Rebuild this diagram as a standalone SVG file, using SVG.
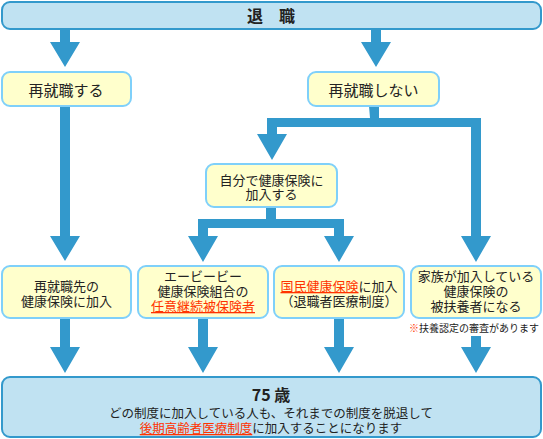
<svg xmlns="http://www.w3.org/2000/svg" width="543" height="439" viewBox="0 0 543 439">
<style>
.big{fill:#C0E2F2;stroke:#3399CC;stroke-width:2}
.box{fill:#FFFFCC;stroke:#7FD0FA;stroke-width:2}
.arr{fill:#3399CC}
text{font-family:"Noto Sans CJK JP","Noto Sans CJK SC",sans-serif;fill:#222;text-anchor:middle}
.t13{font-size:13px}
.red{fill:#FF3300;text-decoration:underline}
</style>
<rect width="543" height="439" fill="#fff"/>
<g id="connectors">
<path class="arr" d="M60,29h10v13h10l-15,25l-15,-25h10z"/>
<path class="arr" d="M371,29h10v13h10l-15,25l-15,-25h10z"/>
<path class="arr" d="M60,106h10v130h10l-15,25l-15,-25h10z"/>
<path class="arr" d="M369,106h10v12h102v118h10l-15,26l-15,-26h10v-109h-194v7h10l-15,26l-15,-26h10v-16h103z"/>
<path class="arr" d="M266,207h10v12h68v17h10l-15,26l-15,-26h10v-8h-126v8h10l-15,26l-15,-26h10v-17h68z"/>
<path class="arr" d="M60,318h10v29h10l-15,26l-15,-26h10z"/>
<path class="arr" d="M198,318h10v29h10l-15,26l-15,-26h10z"/>
<path class="arr" d="M334,318h10v29h10l-15,26l-15,-26h10z"/>
<path class="arr" d="M471,336h10v11h10l-15,26l-15,-26h10z"/>
</g>
<g id="taishoku">
<rect class="big" x="2" y="2" width="539" height="27" rx="8"/>
<text x="271" y="21.5" style="font-size:16px;font-weight:bold">退　職</text>
</g>
<g id="saishushoku">
<rect class="box" x="2" y="72" width="129" height="34" rx="8"/>
<text x="66" y="95.5" style="font-size:15px">再就職する</text>
</g>
<g id="saishushoku-shinai">
<rect class="box" x="308" y="72" width="131" height="34" rx="8"/>
<text x="373.5" y="95.5" style="font-size:15px">再就職しない</text>
</g>
<g id="jibun">
<rect class="box" x="206" y="164" width="131" height="43" rx="8"/>
<text class="t13" x="271.5" y="184.5">自分で健康保険に</text>
<text class="t13" x="271.5" y="199">加入する</text>
</g>
<g id="saishushokusaki">
<rect class="box" x="2" y="266" width="129" height="52" rx="8"/>
<text class="t13" x="66.5" y="291">再就職先の</text>
<text class="t13" x="66.5" y="306">健康保険に加入</text>
</g>
<g id="nini-keizoku">
<rect class="box" x="138" y="266" width="130" height="52" rx="8"/>
<text class="t13" x="203" y="281">エービービー</text>
<text class="t13" x="203" y="296">健康保険組合の</text>
<text class="t13" x="203" y="311"><tspan class="red">任意継続被保険者</tspan></text>
</g>
<g id="kokuho">
<rect class="box" x="274" y="266" width="130" height="52" rx="8"/>
<text class="t13" x="339" y="291"><tspan class="red">国民健康保険</tspan>に加入</text>
<text class="t13" x="339" y="306">（退職者医療制度）</text>
</g>
<g id="fuyou">
<rect class="box" x="411" y="266" width="130" height="52" rx="8"/>
<text class="t13" x="476" y="281">家族が加入している</text>
<text class="t13" x="476" y="296">健康保険の</text>
<text class="t13" x="476" y="311">被扶養者になる</text>
<text x="474" y="331.5" style="font-size:10px"><tspan fill="#FF3300">※</tspan>扶養認定の審査があります</text>
</g>
<g id="age75">
<rect class="big" x="2" y="377" width="539" height="60" rx="8"/>
<text x="271" y="400.5" style="font-size:16px;font-weight:bold">75 歳</text>
<text x="271" y="417.5" style="font-size:12.5px">どの制度に加入している人も、それまでの制度を脱退して</text>
<text x="271" y="433" style="font-size:12.5px"><tspan class="red">後期高齢者医療制度</tspan>に加入することになります</text>
</g>
</svg>
